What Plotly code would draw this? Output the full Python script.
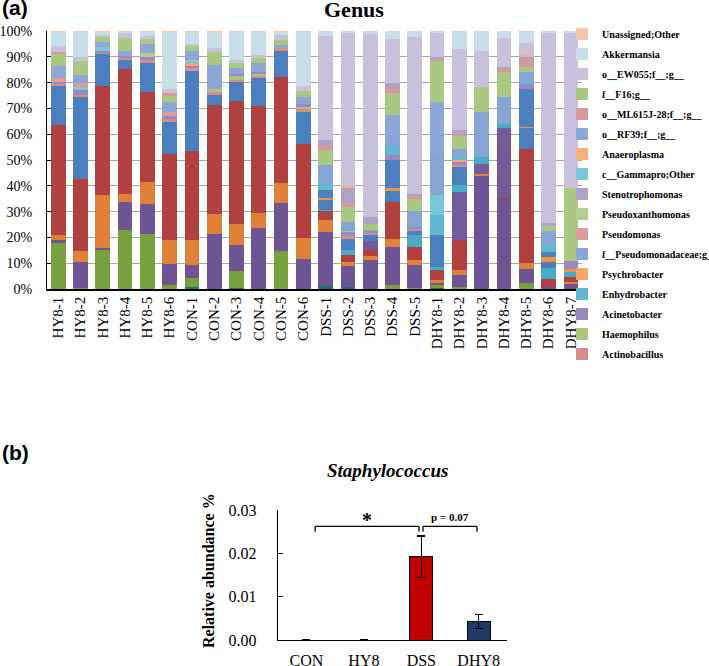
import plotly.graph_objects as go

W, H = 709, 666

# ---------------- Panel (a): genus composition (%) ----------------
SAMPLES = ["HY8-1", "HY8-2", "HY8-3", "HY8-4", "HY8-5", "HY8-6",
           "CON-1", "CON-2", "CON-3", "CON-4", "CON-5", "CON-6",
           "DSS-1", "DSS-2", "DSS-3", "DSS-4", "DSS-5",
           "DHY8-1", "DHY8-2", "DHY8-3", "DHY8-4", "DHY8-5", "DHY8-6", "DHY8-7"]

# lower (unlabelled) genera, bottom of each stack
other_1 = [0, 0, 0, 0, 0, 0, 0.8, 0, 0.3, 0, 0, 0, 1.0, 0.6, 0, 0, 0, 0.5, 0, 0, 0, 0, 0, 0]
other_2 = [17.9, 0.5, 15.3, 23.0, 21.3, 1.4, 3.5, 0, 6.7, 0, 14.7, 0, 0, 0, 0, 1.4, 0.5, 0.9, 0.8, 0, 0, 2.5, 0, 0]
other_3 = [1.0, 9.8, 0.5, 10.8, 11.8, 8.4, 5.1, 21.5, 10.0, 23.8, 18.7, 11.6, 21.1, 8.2, 11.4, 14.9, 8.9, 0.9, 4.5, 44.1, 34.9, 5.3, 0.9, 2.2]
other_4 = [2.0, 4.3, 20.7, 2.9, 8.2, 9.2, 9.5, 7.5, 8.1, 5.7, 7.7, 8.3, 4.5, 1.7, 1.3, 3.0, 1.7, 1.1, 2.2, 0.4, 0, 2.1, 0, 0.4]
other_5 = [42.6, 28.0, 42.3, 48.6, 35.2, 33.3, 34.5, 42.3, 47.9, 41.4, 41.2, 36.2, 3.7, 2.6, 2.6, 14.5, 5.2, 4.1, 11.6, 0, 0.3, 44.2, 2.8, 2.2]
other_6 = [0, 0, 0, 0, 0, 0, 0, 0, 0, 0, 0, 0, 0, 0, 3.3, 0, 0, 0, 18.5, 3.9, 27.3, 0, 0, 0]
other_7 = [0, 0, 0, 0, 0, 0, 0, 0, 0, 0, 0, 0, 0.5, 1.9, 0, 0, 4.5, 1.0, 2.6, 2.8, 1.3, 0, 4.6, 1.9]
other_8 = [15.2, 31.7, 12.5, 3.7, 11.0, 12.5, 31.2, 3.9, 7.3, 11.1, 10.3, 12.6, 3.6, 4.5, 2.6, 4.2, 2.0, 12.3, 7.1, 0, 0, 8.4, 2.0, 0]
other_9 = [0, 0, 0, 0, 0, 0, 0, 0, 0, 0, 0, 0, 1.0, 0, 0, 1.0, 0, 0, 0, 0, 0, 0.3, 2.2, 0.9]
other_10 = [0, 0, 0, 0, 0, 0, 0, 0, 0, 0, 0, 0, 2.9, 0, 0, 11.0, 0, 0, 0, 0, 0, 14.6, 2.0, 0]

# labelled genera
actinobacillus = [0.8, 0.9, 0.5, 0.6, 1.3, 0.9, 0.9, 1.3, 0.7, 0.5, 0.7, 0.9, 0, 1.0, 0.6, 0, 0.6, 0, 0.8, 0, 0, 0, 0, 0]
haemophilus = [0, 0, 0, 0, 0, 0, 0, 1.2, 1.7, 1.1, 0, 1.0, 0, 0, 0, 0, 0, 0, 0, 0, 0, 0, 0, 0]
acinetobacter = [0.8, 2.0, 0.6, 0.7, 1.0, 1.5, 1.0, 0, 0.6, 0.4, 0, 1.3, 0, 1.6, 0.8, 1.9, 0.8, 0, 1.2, 0, 0, 1.9, 0, 3.3]
psychrobacter = [0.3, 0, 0, 0, 0, 0, 1.2, 0, 0, 0, 0, 0, 0, 0.5, 0, 0, 0, 0, 0.6, 0, 0, 0, 0, 0]
enhydrobacter = [0, 0, 0, 0, 0, 0, 0, 0, 0, 0, 0, 0, 1.9, 1.5, 0.4, 3.3, 0.5, 7.8, 1.3, 0, 0, 1.0, 2.6, 0]
gammapro_other = [0, 1.2, 1.5, 0, 0, 0, 1.0, 0, 0, 0, 0, 0, 0, 0, 0, 0, 0, 7.8, 0, 0, 0, 0, 0, 0]
pseudomonadaceae = [0, 0, 0, 0, 0, 0, 0, 0, 0, 0, 0, 0, 7.8, 1.9, 0, 4.5, 5.6, 16.1, 2.9, 17.5, 10.7, 3.9, 5.4, 0]
pseudomonas = [1.0, 1.6, 0, 0, 0, 1.5, 0, 0, 0, 0, 0, 0, 0, 0, 0, 0, 0, 0, 0, 0, 0, 0, 0, 0]
pseudoxanthomonas = [0, 0, 0, 0, 1.5, 0, 0, 0, 0, 0, 0, 0, 0, 0, 0, 0, 0, 0, 0, 0, 0, 0, 0, 0]
rf39 = [4.9, 3.0, 1.8, 1.9, 3.7, 3.9, 3.5, 9.3, 2.5, 3.5, 1.3, 2.4, 0, 0, 0, 7.7, 0, 20.1, 0, 0, 0, 0, 0, 0]
f16 = [4.5, 5.4, 1.8, 5.2, 2.0, 2.2, 2.0, 5.0, 1.7, 1.9, 1.9, 2.4, 5.8, 5.8, 2.1, 8.4, 4.7, 15.9, 5.2, 9.7, 9.7, 2.0, 1.9, 28.4]
ml615j28 = [1.0, 0, 0, 0, 0, 1.0, 0, 0, 0, 0, 0, 0, 2.0, 1.5, 0, 2.2, 1.0, 0.5, 0.8, 0, 1.0, 2.6, 0, 0]
stenotrophomonas = [0, 0, 0, 0, 0, 0, 0, 0, 0, 0, 0, 0, 1.9, 6.2, 2.8, 1.7, 1.0, 0.8, 1.5, 0, 1.0, 1.5, 1.1, 0]
anaeroplasma = [0, 0, 0, 0, 0, 0, 0, 0, 0, 0, 0, 0, 0, 0.3, 0, 0, 0, 0, 0, 0, 0, 0.5, 0, 0]
ew055 = [2.3, 1.6, 0.9, 2.0, 1.0, 1.8, 0.8, 1.3, 1.2, 1.3, 1.9, 2.0, 40.3, 59.6, 70.9, 17.1, 60.8, 9.6, 31.3, 13.8, 11.2, 4.4, 73.6, 59.8]
akkermansia = [5.5, 9.8, 1.5, 0.5, 1.9, 22.2, 4.8, 6.5, 11.1, 9.1, 1.4, 21.1, 2.0, 0.6, 1.2, 3.2, 2.2, 0.6, 7.1, 7.8, 2.6, 4.6, 0.9, 0.9]
unassigned = [0.2, 0.2, 0.1, 0.1, 0.1, 0.2, 0.2, 0.2, 0.2, 0.2, 0.2, 0.2, 0, 0, 0, 0, 0, 0, 0, 0, 0, 0.2, 0, 0]

# (name, values, colour, legend rank or None) in stacking order, bottom to top
SERIES = [
    ("Other genus 1", other_1, "#1F6F7A", None),
    ("Other genus 2", other_2, "#77A13E", None),
    ("Other genus 3", other_3, "#6E5494", None),
    ("Other genus 4", other_4, "#DF8139", None),
    ("Other genus 5", other_5, "#B0413F", None),
    ("Other genus 6", other_6, "#735A9B", None),
    ("Other genus 7", other_7, "#48AAC5", None),
    ("Other genus 8", other_8, "#4A7EBD", None),
    ("Other genus 9", other_9, "#EE9445", None),
    ("Other genus 10", other_10, "#4C80BF", None),
    ("Actinobacillus", actinobacillus, "#D58D8B", 17),
    ("Haemophilus", haemophilus, "#A9C67C", 16),
    ("Acinetobacter", acinetobacter, "#9A88BE", 15),
    ("Psychrobacter", psychrobacter, "#F5A66A", 13),
    ("Enhydrobacter", enhydrobacter, "#5FB7D0", 14),
    ("c__Gammapro;Other", gammapro_other, "#7CC6DA", 8),
    ("f__Pseudomonadaceae;g__", pseudomonadaceae, "#86A4D5", 12),
    ("Pseudomonas", pseudomonas, "#DC9C9A", 11),
    ("Pseudoxanthomonas", pseudoxanthomonas, "#B4CE8E", 10),
    ("o__RF39;f__;g__", rf39, "#8DA8D6", 6),
    ("f__F16;g__", f16, "#A9C882", 4),
    ("o__ML615J-28;f__;g__", ml615j28, "#D8989A", 5),
    ("Stenotrophomonas", stenotrophomonas, "#AFA2CA", 9),
    ("Anaeroplasma", anaeroplasma, "#F7B07C", 7),
    ("o__EW055;f__;g__", ew055, "#C9C1DB", 3),
    ("Akkermansia", akkermansia, "#C8DEE9", 2),
    ("Unassigned;Other", unassigned, "#F5C6A5", 1),
]

# ---------------- Panel (b): Staphylococcus ----------------
GROUPS = ["CON", "HY8", "DSS", "DHY8"]
STAPH_MEAN = [0.0, 0.0, 0.0192, 0.0042]
STAPH_ERR = [0.0, 0.0, 0.0048, 0.0016]
STAPH_COLORS = ["#C00000", "#C00000", "#C00000", "#1F3864"]
# (from group index, to group index, height, label)
BRACKETS = [(0.15, 1.96, 0.0262, "*"), (2.03, 2.97, 0.0262, "p = 0.07")]

SERIF = "Liberation Serif, Times New Roman, serif"
SANS = "Liberation Sans, Arial, sans-serif"


def fx(px):
    return px / W


def fy(py):
    return 1 - py / H


fig = go.Figure()

for name, vals, color, rank in SERIES:
    kw = dict(x=SAMPLES, y=vals, name=name, marker=dict(color=color, line=dict(width=0)),
              xaxis="x", yaxis="y", width=0.66)
    if rank is None:
        kw["showlegend"] = False
    else:
        kw["legendrank"] = rank
        kw["legendgroup"] = name
    fig.add_trace(go.Bar(**kw))

fig.add_trace(go.Bar(
    x=GROUPS, y=STAPH_MEAN, xaxis="x2", yaxis="y2", width=0.4, showlegend=False,
    marker=dict(color=STAPH_COLORS, line=dict(color="black", width=1)),
    error_y=dict(type="data", array=STAPH_ERR, color="black", thickness=1.2, width=4),
))

shapes = []
annotations = []
drop = 0.0012
for x0, x1, yb, lab in BRACKETS:
    for (a, b, c, d) in [(x0, yb, x1, yb), (x0, yb, x0, yb - drop), (x1, yb, x1, yb - drop)]:
        shapes.append(dict(type="line", xref="x2", yref="y2", x0=a, y0=b, x1=c, y1=d,
                           line=dict(color="black", width=1.3)))
    big = lab == "*"
    annotations.append(dict(xref="x2", yref="y2", x=(x0 + x1) / 2, y=yb, text=lab,
                            showarrow=False, xanchor="center", yanchor="bottom",
                            yshift=(-7 if big else 1),
                            font=dict(family=SERIF, size=(20 if big else 11), color="black",
                                      weight="bold")))


def label(px, py, text, size, family=SERIF, angle=0, xanchor="center"):
    return dict(xref="paper", yref="paper", x=fx(px), y=fy(py), text=text, showarrow=False,
                xanchor=xanchor, yanchor="middle", textangle=angle,
                font=dict(family=family, size=size, color="black", weight="bold"))


annotations += [
    label(0, 7, "(a)", 21, SANS, xanchor="left"),
    label(0, 452, "(b)", 21, SANS, xanchor="left"),
    label(354, 10, "Genus", 22),
    label(387, 470, "<i>Staphylococcus</i>", 19),
    label(208, 571, "Relative abundance %", 16, angle=-90),
]

fig.update_layout(
    width=W, height=H, autosize=False,
    margin=dict(l=0, r=0, t=0, b=0, autoexpand=False),
    paper_bgcolor="white", plot_bgcolor="white",
    barmode="stack",
    font=dict(family=SERIF, color="black"),
    xaxis=dict(domain=[fx(47), fx(582)], anchor="y", type="category", tickangle=-90,
               showline=True, linecolor="black", linewidth=1.5, ticks="",
               tickfont=dict(family=SERIF, size=15, color="black"), showgrid=False,
               automargin=False),
    yaxis=dict(domain=[fy(289), fy(31)], anchor="x", range=[0, 100], dtick=10, ticksuffix="%",
               showgrid=True, gridcolor="#A6A6A6", gridwidth=1.3, zeroline=False,
               showline=True, linecolor="black", linewidth=1, ticks="inside", ticklen=4,
               tickcolor="black", ticklabelstandoff=11, automargin=False,
               tickfont=dict(family=SERIF, size=14, color="black")),
    xaxis2=dict(domain=[fx(277.8), fx(507.4)], anchor="y2", type="category",
                range=[-0.5, 3.5], showline=True, linecolor="black", linewidth=1.2,
                ticks="", showgrid=False, ticklabelstandoff=6, automargin=False,
                tickfont=dict(family=SERIF, size=16, color="black")),
    yaxis2=dict(domain=[fy(640), fy(510)], anchor="x2", range=[0, 0.03], dtick=0.01,
                tickformat=".2f", showline=True, linecolor="black", linewidth=1.2,
                ticks="inside", ticklen=5, tickcolor="black", showgrid=False, zeroline=False,
                ticklabelstandoff=17, automargin=False,
                tickfont=dict(family=SERIF, size=16, color="black")),
    legend=dict(x=fx(562), xanchor="left", y=fy(19.5), yanchor="top",
                traceorder="grouped", tracegroupgap=1, bgcolor="rgba(0,0,0,0)",
                font=dict(family=SERIF, size=10, color="black", weight="bold")),
    shapes=shapes,
    annotations=annotations,
)

fig.write_html("out.html", config={"displayModeBar": False},
               post_script="document.body.style.margin='0';document.body.style.padding='0';")
